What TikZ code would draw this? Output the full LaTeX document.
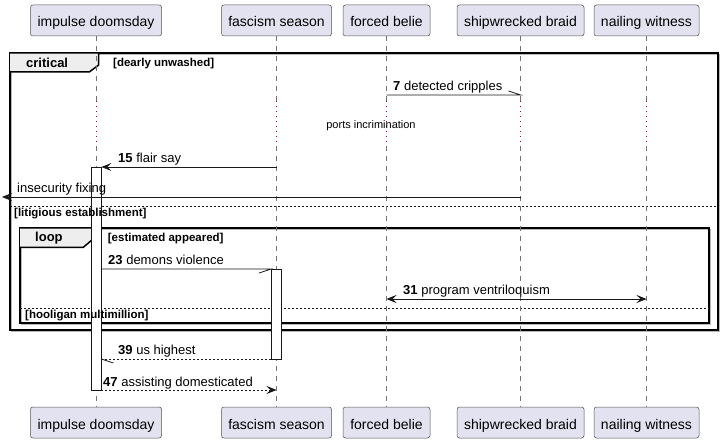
\documentclass[tikz,border=0pt]{standalone}
\usepackage{fontspec}
\setmainfont{Liberation Sans}
\usetikzlibrary{arrows.meta}
\definecolor{partfill}{HTML}{E2E2F0}
\definecolor{partdraw}{HTML}{181818}
\definecolor{delayc}{HTML}{A80036}
\definecolor{tabfill}{HTML}{EEEEEE}
\begin{document}
\begin{tikzpicture}[x=1pt,y=-1pt,
  part/.style={draw=partdraw!75, fill=partfill, rounded corners=2.5pt, line width=0.5pt, minimum height=31pt, inner sep=0pt, text height=13pt, text depth=0pt, font=\fontsize{14}{16}\selectfont},
  life/.style={draw=gray!90!black, line width=0.5pt, dash pattern=on 5pt off 5pt},
  delayline/.style={draw=delayc, line width=1pt, dash pattern=on 1pt off 4pt},
  act/.style={draw=partdraw, fill=white, line width=0.8pt, minimum width=10pt, inner sep=0pt},
  msg/.style={draw=partdraw, line width=0.8pt},
  ret/.style={msg, dash pattern=on 2pt off 2pt},
  tip/.style={-{Stealth[length=10pt,width=8pt,inset=4pt]}},
  dtip/.style={{Stealth[length=10pt,width=8pt,inset=4pt]}-{Stealth[length=10pt,width=8pt,inset=4pt]}},
  frameline/.style={draw=black, line width=1.5pt},
  frameshadow/.style={draw=gray!55, line width=1.5pt},
  sepline/.style={draw=partdraw, line width=0.8pt, dash pattern=on 2pt off 2pt},
  tabshape/.style={fill=tabfill, draw=black, line width=1.5pt},
  lbl/.style={anchor=base west, inner sep=0pt, font=\fontsize{13}{15}\selectfont},
  guard/.style={anchor=base west, inner sep=0pt, font=\bfseries\fontsize{11.5}{13}\selectfont},
  tablbl/.style={anchor=base west, inner sep=0pt, font=\bfseries\fontsize{13}{15}\selectfont},
  dl/.style={anchor=base, inner sep=0pt, font=\fontsize{11}{13}\selectfont}
]
\useasboundingbox (0,0) rectangle (725,443);
\fill[white] (0,0) rectangle (725,443);

% frames
\draw[frameshadow] (11.5,54.5) rectangle (719.5,331.5);
\draw[frameline] (10,53) rectangle (718,330);
\filldraw[tabshape] (10,53) -- (98.7,53) -- (98.7,65) -- (89.3,72) -- (10,72);
\draw[sepline] (10,206) -- (718,206);

\draw[frameshadow] (21.5,229.5) rectangle (710.5,324.5);
\draw[frameline] (20,228) rectangle (709,323);
\filldraw[tabshape] (20,228) -- (94.3,228) -- (94.3,238) -- (83.3,247.3) -- (20,247.3);
\draw[sepline] (20,308) -- (709,308);

% participants
\node[part, minimum width=131pt] (topA) at (96,20.5) {impulse doomsday};
\node[part, minimum width=110pt] (topB) at (276.5,20.5) {fascism season};
\node[part, minimum width=87pt]  (topC) at (386.5,20.5) {forced belie};
\node[part, minimum width=127pt] (topD) at (520.5,20.5) {shipwrecked braid};
\node[part, minimum width=105pt] (topE) at (646.5,20.5) {nailing witness};
\node[part, minimum width=131pt] (botA) at (96,422.5) {impulse doomsday};
\node[part, minimum width=110pt] (botB) at (276.5,422.5) {fascism season};
\node[part, minimum width=87pt]  (botC) at (386.5,422.5) {forced belie};
\node[part, minimum width=127pt] (botD) at (520.5,422.5) {shipwrecked braid};
\node[part, minimum width=105pt] (botE) at (646.5,422.5) {nailing witness};

% lifelines
\foreach \n in {A,B,C,D,E}{
  \draw[life] (top\n.south) -- (top\n.south |- 0,101);
  \draw[delayline] (top\n.south |- 0,101) -- (top\n.south |- 0,146);
  \draw[life] (top\n.south |- 0,146) -- (bot\n.north);
}

% activations
\node[act, minimum height=223pt] (actA) at (96,278.5) {};
\node[act, minimum height=90pt] (actB) at (276.5,314) {};

% messages
\draw[msg] (topC |- 0,95) -- (topD |- 0,95) -- ++(-12,-4);
\draw[msg,tip] (topB |- 0,167) -- (actA.east |- 0,167);
\coordinate (lost) at (2,197);
\draw[msg,tip] (topD |- 0,197) -- (lost);
\draw[msg] (actA.east |- 0,269) -- (actB.west |- 0,269) -- ++(-12,4);
\draw[msg,dtip] (topC |- 0,299) -- (topE |- 0,299);
\draw[ret] (actB.west |- 0,359) -- (actA.east |- 0,359);
\draw[msg] (actA.east |- 0,359) -- ++(12,4);
\draw[ret,tip] (actA.east |- 0,390) -- (topB |- 0,390);

% labels
\node[lbl] (l7) at (393,90.5) {\textbf{7} detected cripples};
\node[dl] (ldelay) at (371,128.3) {ports incrimination};
\node[lbl] (l15) at (118,163) {\textbf{15} flair say};
\node[lbl] (llost) at (17,193) {insecurity fixing};
\node[lbl] (l23) at (108,265) {\textbf{23} demons violence};
\node[lbl] (l31) at (403,295) {\textbf{31} program ventriloquism};
\node[lbl] (l39) at (118,355) {\textbf{39} us highest};
\node[lbl] (l47) at (103,386) {\textbf{47} assisting domesticated};

\node[tablbl] (tcrit) at (26,68) {critical};
\node[tablbl] (tloop) at (35,242) {loop};
\node[guard] (g1) at (113,66.5) {[dearly unwashed]};
\node[guard] (g2) at (14,217) {[litigious establishment]};
\node[guard] (g3) at (107.7,242) {[estimated appeared]};
\node[guard] (g4) at (25,319) {[hooligan multimillion]};
\end{tikzpicture}
\end{document}
